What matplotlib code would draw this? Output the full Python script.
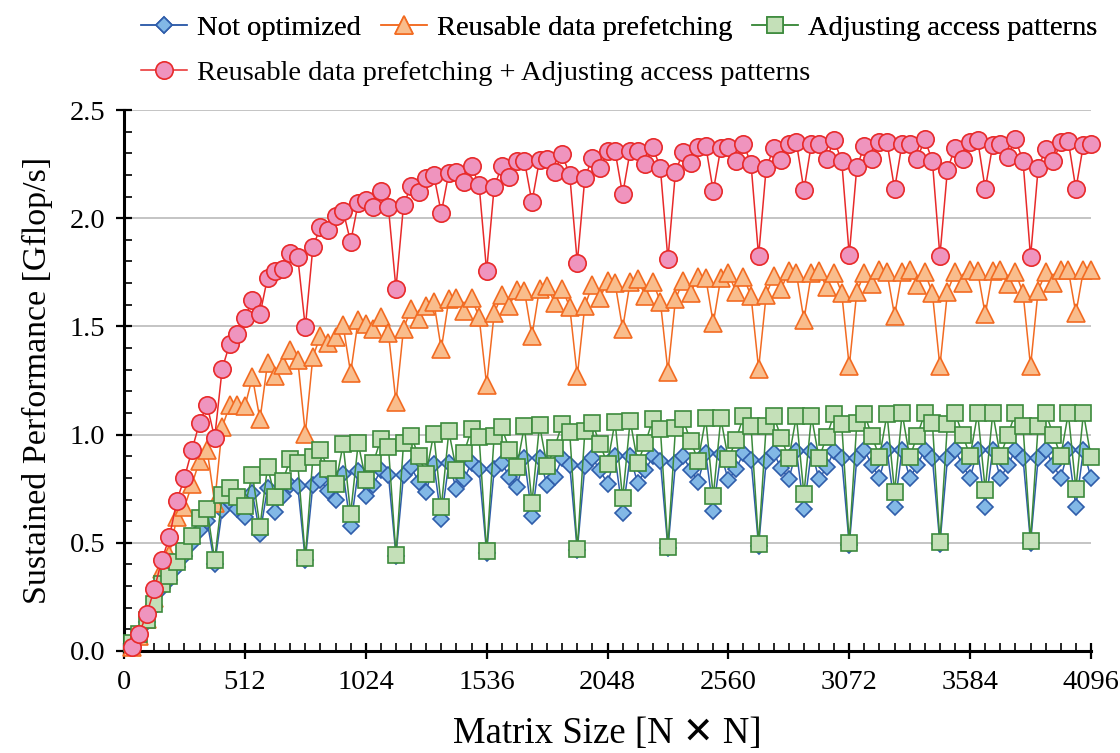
import matplotlib
matplotlib.use("Agg")
import matplotlib.pyplot as plt
from matplotlib.ticker import MultipleLocator, FixedLocator

plt.rcParams['font.family'] = ['Liberation Serif', 'DejaVu Serif', 'DejaVu Sans']

# Matrix sizes N (N x N), every 32 up to 4096
sizes = list(range(32, 4097, 32))

not_optimized = [
    0.03, 0.075, 0.135, 0.205, 0.29, 0.33, 0.39, 0.44, 0.50, 0.56, 0.60,
    0.40, 0.652, 0.69, 0.655, 0.62, 0.729, 0.541, 0.752, 0.644, 0.714, 0.768, 0.763,
    0.42, 0.768, 0.79, 0.74, 0.70, 0.82, 0.578, 0.83, 0.714, 0.768, 0.837, 0.814,
    0.44, 0.814, 0.85, 0.783, 0.737, 0.866, 0.609, 0.868, 0.748, 0.794, 0.868, 0.84,
    0.455, 0.84, 0.87, 0.806, 0.76, 0.891, 0.624, 0.891, 0.768, 0.806, 0.891, 0.86,
    0.465, 0.855, 0.891, 0.837, 0.772, 0.899, 0.637, 0.899, 0.775, 0.835, 0.899, 0.876,
    0.475, 0.868, 0.90, 0.837, 0.783, 0.914, 0.649, 0.91, 0.79, 0.84, 0.914, 0.883,
    0.485, 0.876, 0.914, 0.845, 0.794, 0.925, 0.655, 0.925, 0.794, 0.85, 0.925, 0.89,
    0.49, 0.89, 0.93, 0.858, 0.80, 0.93, 0.667, 0.93, 0.80, 0.858, 0.93, 0.893,
    0.495, 0.89, 0.93, 0.858, 0.80, 0.93, 0.667, 0.93, 0.80, 0.858, 0.93, 0.893,
    0.50, 0.89, 0.93, 0.858, 0.80, 0.93, 0.667, 0.93, 0.80,
]

reusable_prefetch = [
    0.02, 0.07, 0.15, 0.245, 0.38, 0.445, 0.62, 0.665, 0.77, 0.88, 0.93,
    0.685, 1.035, 1.135, 1.135, 1.13, 1.265, 1.07, 1.33, 1.27, 1.32, 1.39, 1.345,
    1.005, 1.36, 1.455, 1.425, 1.45, 1.505, 1.285, 1.53, 1.51, 1.49, 1.545, 1.47,
    1.15, 1.49, 1.58, 1.535, 1.595, 1.615, 1.395, 1.625, 1.63, 1.57, 1.63, 1.545,
    1.23, 1.56, 1.645, 1.595, 1.67, 1.665, 1.455, 1.675, 1.685, 1.61, 1.675, 1.59,
    1.27, 1.595, 1.69, 1.63, 1.71, 1.70, 1.49, 1.705, 1.72, 1.64, 1.705, 1.615,
    1.29, 1.625, 1.71, 1.655, 1.73, 1.725, 1.515, 1.725, 1.745, 1.66, 1.73, 1.64,
    1.305, 1.645, 1.735, 1.675, 1.755, 1.745, 1.53, 1.745, 1.755, 1.68, 1.745, 1.655,
    1.315, 1.66, 1.745, 1.695, 1.76, 1.75, 1.55, 1.75, 1.76, 1.69, 1.75, 1.655,
    1.315, 1.66, 1.75, 1.70, 1.76, 1.755, 1.555, 1.755, 1.76, 1.695, 1.75, 1.655,
    1.315, 1.665, 1.75, 1.70, 1.76, 1.76, 1.56, 1.76, 1.76,
]

adjusting_access = [
    0.035, 0.08, 0.145, 0.215, 0.31, 0.345, 0.41, 0.46, 0.53, 0.615, 0.655,
    0.42, 0.72, 0.755, 0.71, 0.67, 0.815, 0.575, 0.85, 0.71, 0.785, 0.885, 0.87,
    0.43, 0.895, 0.93, 0.84, 0.77, 0.955, 0.635, 0.96, 0.79, 0.87, 0.98, 0.945,
    0.445, 0.96, 0.995, 0.90, 0.82, 1.005, 0.665, 1.015, 0.835, 0.915, 1.025, 0.99,
    0.46, 0.995, 1.035, 0.93, 0.85, 1.04, 0.685, 1.045, 0.855, 0.94, 1.05, 1.01,
    0.47, 1.015, 1.055, 0.955, 0.865, 1.06, 0.705, 1.065, 0.87, 0.96, 1.07, 1.025,
    0.48, 1.03, 1.07, 0.97, 0.88, 1.075, 0.715, 1.075, 0.885, 0.975, 1.085, 1.04,
    0.495, 1.04, 1.085, 0.985, 0.89, 1.085, 0.725, 1.085, 0.89, 0.99, 1.095, 1.05,
    0.50, 1.055, 1.095, 0.995, 0.895, 1.095, 0.735, 1.10, 0.895, 0.995, 1.10, 1.055,
    0.505, 1.05, 1.10, 1.0, 0.90, 1.10, 0.745, 1.10, 0.90, 1.0, 1.10, 1.04,
    0.51, 1.04, 1.10, 1.0, 0.90, 1.10, 0.75, 1.10, 0.895,
]

both_opt = [
    0.02, 0.08, 0.17, 0.285, 0.42, 0.525, 0.695, 0.80, 0.93, 1.055, 1.135,
    0.985, 1.305, 1.42, 1.465, 1.54, 1.62, 1.555, 1.725, 1.755, 1.765, 1.84, 1.82,
    1.495, 1.865, 1.96, 1.945, 2.01, 2.035, 1.89, 2.07, 2.085, 2.05, 2.125, 2.05,
    1.675, 2.06, 2.15, 2.12, 2.185, 2.20, 2.025, 2.21, 2.215, 2.165, 2.24, 2.155,
    1.755, 2.145, 2.24, 2.19, 2.265, 2.265, 2.075, 2.27, 2.275, 2.215, 2.295, 2.20,
    1.795, 2.185, 2.28, 2.23, 2.31, 2.31, 2.11, 2.31, 2.31, 2.25, 2.33, 2.23,
    1.81, 2.215, 2.305, 2.255, 2.33, 2.335, 2.125, 2.325, 2.33, 2.265, 2.345, 2.25,
    1.825, 2.23, 2.325, 2.27, 2.345, 2.35, 2.13, 2.345, 2.345, 2.275, 2.36, 2.265,
    1.83, 2.235, 2.335, 2.275, 2.35, 2.35, 2.135, 2.345, 2.345, 2.275, 2.365, 2.265,
    1.825, 2.225, 2.325, 2.275, 2.35, 2.36, 2.135, 2.34, 2.345, 2.285, 2.365, 2.265,
    1.82, 2.23, 2.32, 2.265, 2.35, 2.355, 2.135, 2.34, 2.345,
]

labels = ["Not optimized", "Reusable data prefetching", "Adjusting access patterns",
          "Reusable data prefetching + Adjusting access patterns"]
x_ticks = [0, 512, 1024, 1536, 2048, 2560, 3072, 3584, 4096]
y_ticks = [0.0, 0.5, 1.0, 1.5, 2.0, 2.5]

styles = [
    dict(color="#2F5DAA", marker="D", markersize=8.5, markerfacecolor="#82B8E6", markeredgecolor="#2F5DAA"),
    dict(color="#F26B22", marker="^", markersize=12.5, markerfacecolor="#F9BD8C", markeredgecolor="#F26B22"),
    dict(color="#3C8A3C", marker="s", markersize=12, markerfacecolor="#C4E0B8", markeredgecolor="#3C8A3C"),
    dict(color="#E82A2A", marker="o", markersize=12.5, markerfacecolor="#EF94BE", markeredgecolor="#E82A2A"),
]
series = [not_optimized, reusable_prefetch, adjusting_access, both_opt]

fig = plt.figure(figsize=(11.2, 7.53), dpi=100)
ax = fig.add_axes([124 / 1120, 1 - 651 / 753, (1091 - 124) / 1120, (651 - 110) / 753])

handles = []
for i, (vals, st, lab) in enumerate(zip(series, styles, labels)):
    h, = ax.plot(sizes, vals, linewidth=1.1, markeredgewidth=1.2, label=lab,
                 clip_on=False, zorder=3 + i, **st)
    handles.append(h)

ax.set_xlim(0, 4096)
ax.set_ylim(0, 2.5)
ax.xaxis.set_major_locator(FixedLocator(x_ticks))
ax.xaxis.set_minor_locator(MultipleLocator(64))
ax.yaxis.set_major_locator(FixedLocator(y_ticks))
ax.yaxis.set_minor_locator(MultipleLocator(0.1))
ax.set_yticklabels([f"{v:.1f}" for v in y_ticks])
ax.set_xticklabels([str(v) for v in x_ticks])

ax.grid(axis="y", which="major", color="#BFBFBF", linewidth=1.3, zorder=0)
ax.set_axisbelow(True)
for s in ["top", "right"]:
    ax.spines[s].set_visible(False)
for s in ["left", "bottom"]:
    ax.spines[s].set_linewidth(2.2)
    ax.spines[s].set_color("black")

ax.tick_params(which="major", direction="inout", length=12, width=1.6, labelsize=20.5, pad=7.5)
ax.tick_params(which="minor", direction="in", length=6, width=1.2)

ax.set_xlabel("Matrix Size [N \u2715 N]", fontsize=26.5, labelpad=16)
ax.set_ylabel("Sustained Performance [Gflop/s]", fontsize=24.5, labelpad=12)

leg1 = fig.legend(handles[:3], labels[:3], loc="center left", bbox_to_anchor=(0.126, 0.963),
                  ncol=3, frameon=False, fontsize=20.5, handlelength=1.6, handletextpad=0.35,
                  columnspacing=0.72, borderaxespad=0, borderpad=0)
fig.add_artist(leg1)
fig.legend(handles[3:], labels[3:], loc="center left", bbox_to_anchor=(0.126, 0.903),
           frameon=False, fontsize=20.5, handlelength=1.6, handletextpad=0.35,
           borderaxespad=0, borderpad=0)

fig.savefig("out.png", dpi=100)
